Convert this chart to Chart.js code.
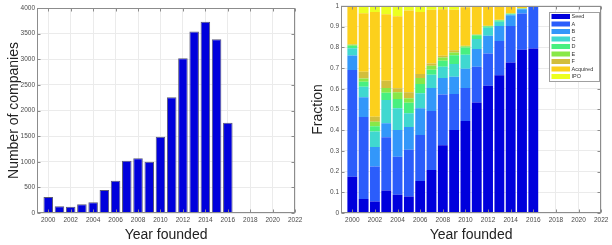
<!DOCTYPE html>
<html>
<head>
<meta charset="utf-8">
<script src="https://cdn.jsdelivr.net/npm/chart.js@4.4.1/dist/chart.umd.min.js"></script>
<style>
    html, body { margin: 0; padding: 0; background: #fff; }
    #wrap { position: relative; width: 612px; height: 245px; }
    canvas { position: absolute; top: 0; }
    #countChart { left: 0; }
    #fractionChart { left: 306px; }
</style>
</head>
<body>
<div id="wrap">
    <canvas id="countChart" width="306" height="245"></canvas>
    <canvas id="fractionChart" width="306" height="245"></canvas>
</div>
<script>
// data
const years = [2000, 2001, 2002, 2003, 2004, 2005, 2006, 2007, 2008, 2009, 2010, 2011, 2012, 2013, 2014, 2015, 2016];
const companyCounts = [310, 130, 120, 170, 210, 450, 630, 1020, 1070, 1000, 1490, 2260, 3020, 3540, 3730, 3390, 1760];

const stageNames = ["Seed", "A", "B", "C", "D", "E", "F", "Acquired", "IPO"];
const seedShare = [0.175, 0.067, 0.056, 0.109, 0.088, 0.080, 0.155, 0.208, 0.327, 0.401, 0.444, 0.534, 0.615, 0.665, 0.727, 0.788, 0.794];
const aShare = [0.515, 0.396, 0.168, 0.257, 0.184, 0.225, 0.222, 0.284, 0.245, 0.174, 0.160, 0.172, 0.155, 0.166, 0.176, 0.175, 0.201];
const bShare = [0.070, 0.096, 0.095, 0.067, 0.129, 0.110, 0.129, 0.112, 0.080, 0.083, 0.092, 0.086, 0.086, 0.072, 0.052, 0.021, 0.003];
const cShare = [0.035, 0.051, 0.074, 0.113, 0.105, 0.067, 0.072, 0.064, 0.054, 0.061, 0.068, 0.048, 0.039, 0.020, 0.005, 0.002, 0];
const dShare = [0.013, 0.024, 0.026, 0.035, 0.045, 0.050, 0.045, 0.024, 0.029, 0.043, 0.035, 0.018, 0.006, 0.007, 0.002, 0.001, 0];
const eShare = [0.005, 0.016, 0.022, 0.023, 0.032, 0.022, 0.029, 0.019, 0.016, 0.013, 0.006, 0.003, 0.002, 0.002, 0.001, 0, 0];
const fShare = [0.002, 0.032, 0.024, 0.035, 0.019, 0.029, 0.019, 0.011, 0.008, 0.011, 0.003, 0.002, 0.001, 0.001, 0, 0, 0];
const acquiredShare = [0.180, 0.283, 0.505, 0.321, 0.348, 0.395, 0.300, 0.259, 0.225, 0.196, 0.186, 0.134, 0.094, 0.065, 0.036, 0.012, 0.002];
const ipoShare = [0.005, 0.035, 0.030, 0.040, 0.050, 0.022, 0.029, 0.019, 0.016, 0.018, 0.006, 0.003, 0.002, 0.002, 0.001, 0.001, 0];

const yearTicks = [2000, 2002, 2004, 2006, 2008, 2010, 2012, 2014, 2016, 2018, 2020, 2022];
const countTicks = [0, 500, 1000, 1500, 2000, 2500, 3000, 3500, 4000];
const fractionTicks = [0, 0.1, 0.2, 0.3, 0.4, 0.5, 0.6, 0.7, 0.8, 0.9, 1];

const stageColors = ["#0000DC", "#2B5DFB", "#3397FA", "#40D8D0", "#48F080", "#88E848", "#D2BE3C", "#FCD01C", "#ECFF20"];

const axisColor = "#8c8c8c";
const tickFont = { family: "'Liberation Sans', Arial, sans-serif", size: 6.5 };
const titleFont = { family: "'Liberation Sans', Arial, sans-serif", size: 14 };

// box around the plot plus matlab-style inward ticks
const axisBoxPlugin = {
    id: "axisBox",
    afterDatasetsDraw(chart) {
        const { ctx, chartArea: a, scales: { x, y } } = chart;
        const l = Math.round(a.left) + 0.5, r = Math.round(a.right) - 0.5;
        const t = Math.round(a.top) + 0.5, b = Math.round(a.bottom) - 0.5;
        ctx.save();
        ctx.strokeStyle = axisColor;
        ctx.lineWidth = 1;
        ctx.strokeRect(l, t, r - l, b - t);
        ctx.beginPath();
        x.ticks.forEach((tick) => {
            const px = Math.round(x.getPixelForValue(tick.value)) + 0.5;
            ctx.moveTo(px, b); ctx.lineTo(px, b - 3);
            ctx.moveTo(px, t); ctx.lineTo(px, t + 3);
        });
        y.ticks.forEach((tick) => {
            const py = Math.round(y.getPixelForValue(tick.value)) + 0.5;
            ctx.moveTo(l, py); ctx.lineTo(l + 3, py);
            ctx.moveTo(r, py); ctx.lineTo(r - 3, py);
        });
        ctx.stroke();
        ctx.restore();
    }
};

// legend box inside the top right corner of the plot
const cornerLegendPlugin = {
    id: "cornerLegend",
    afterDraw(chart) {
        const { ctx, chartArea: a } = chart;
        const rowH = 7.5;
        const boxW = 50;
        const count = chart.data.datasets.length;
        const boxH = count * rowH + 1.5;
        const left = Math.round(a.right - 2 - boxW) + 0.5;
        const top = Math.round(a.top + 6) + 0.5;
        ctx.save();
        ctx.fillStyle = "#fff";
        ctx.fillRect(left, top, boxW, boxH);
        ctx.strokeStyle = "#a0a0a0";
        ctx.lineWidth = 1;
        ctx.strokeRect(left, top, boxW, boxH);
        ctx.font = "5.5px 'Liberation Sans', Arial, sans-serif";
        ctx.textBaseline = "middle";
        ctx.fillStyle = "#333";
        chart.data.datasets.forEach((ds, i) => {
            const cy = top + 4 + i * rowH;
            ctx.fillStyle = ds.backgroundColor;
            ctx.fillRect(left + 2, cy - 2.5, 18.5, 5);
            ctx.fillStyle = "#333";
            ctx.fillText(ds.label, left + 22, cy + 0.3);
        });
        ctx.restore();
    }
};

const makeXScale = (stacked) => ({
    type: "linear",
    min: 1999,
    max: 2022,
    offset: false,
    stacked: stacked,
    afterBuildTicks: (scale) => { scale.ticks = yearTicks.map((v) => ({ value: v })); },
    afterFit: (scale) => { scale.height = 32; },
    grid: { color: "#ebebeb", drawTicks: false, offset: false },
    border: { display: false },
    ticks: { font: tickFont, color: "#4a4a4a", padding: 3.6, maxRotation: 0, callback: (v) => String(v) },
    title: { display: true, text: "Year founded", font: titleFont, color: "#222", padding: { top: 0, bottom: 1.6 } }
});

const makeYScale = (ticks, max, stacked, titleText, axisWidth, titlePad) => ({
    type: "linear",
    min: 0,
    max: max,
    stacked: stacked,
    afterBuildTicks: (scale) => { scale.ticks = ticks.map((v) => ({ value: v })); },
    afterFit: (scale) => { scale.width = axisWidth; },
    grid: { color: "#ebebeb", drawTicks: false },
    border: { display: false },
    ticks: { font: tickFont, color: "#4a4a4a", padding: 2, callback: (v) => String(v) },
    title: { display: true, text: titleText, font: titleFont, color: "#222", padding: { top: titlePad, bottom: 0 } }
});

let chartInstances = {};

const createChart = (chartElement, config) => {
    const ctx = document.querySelector(chartElement).getContext("2d");
    if (chartInstances[chartElement]) {
        chartInstances[chartElement].destroy();
    }
    chartInstances[chartElement] = new Chart(ctx, config);
};

createChart("#countChart", {
    type: "bar",
    data: {
        datasets: [{
            label: "Companies",
            data: years.map((yr, i) => ({ x: yr, y: companyCounts[i] })),
            backgroundColor: "#0000DC",
            borderColor: "#5a5a78",
            borderWidth: 1,
            barPercentage: 0.85,
            categoryPercentage: 1
        }]
    },
    options: {
        responsive: false,
        animation: false,
        devicePixelRatio: 1,
        layout: { padding: { left: 0, top: 8, right: 8, bottom: 0 } },
        plugins: { legend: { display: false }, tooltip: { enabled: false } },
        scales: {
            x: makeXScale(false),
            y: makeYScale(countTicks, 4000, false, "Number of companies", 37, 5.6)
        }
    },
    plugins: [axisBoxPlugin]
});

const stageShares = [seedShare, aShare, bShare, cShare, dShare, eShare, fShare, acquiredShare, ipoShare];

createChart("#fractionChart", {
    type: "bar",
    data: {
        datasets: stageNames.map((name, s) => ({
            label: name,
            data: years.map((yr, i) => ({ x: yr, y: stageShares[s][i] })),
            backgroundColor: stageColors[s],
            borderWidth: 0,
            barPercentage: 0.87,
            categoryPercentage: 1
        }))
    },
    options: {
        responsive: false,
        animation: false,
        devicePixelRatio: 1,
        layout: { padding: { left: 0, top: 4.7, right: 7.7, bottom: 0 } },
        plugins: { legend: { display: false }, tooltip: { enabled: false } },
        scales: {
            x: makeXScale(true),
            y: makeYScale(fractionTicks, 1, true, "Fraction", 35, 3.6)
        }
    },
    plugins: [axisBoxPlugin, cornerLegendPlugin]
});
</script>
</body>
</html>
